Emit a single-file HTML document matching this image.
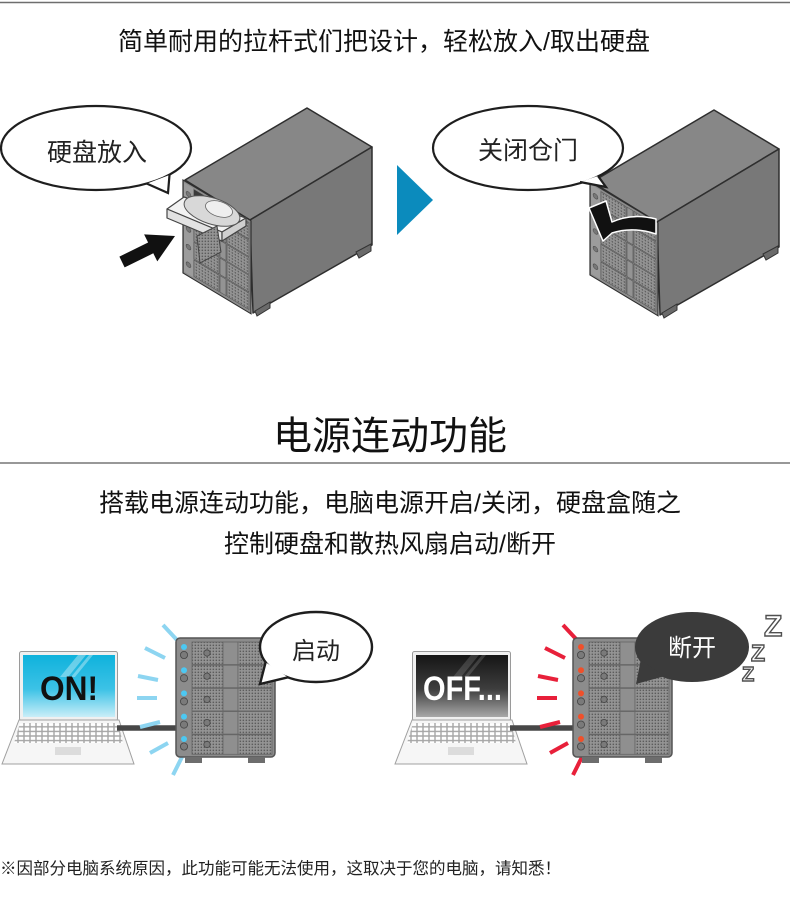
<!DOCTYPE html>
<html><head><meta charset="utf-8"><style>
html,body{margin:0;padding:0;background:#fff;width:790px;height:914px;overflow:hidden}
svg{display:block}
</style></head><body>
<svg width="790" height="914" viewBox="0 0 790 914" xmlns="http://www.w3.org/2000/svg" font-family="'Liberation Sans','Noto Sans CJK SC',sans-serif">
<defs>
<pattern id="dp" width="3" height="3" patternUnits="userSpaceOnUse"><rect width="3" height="3" fill="#959595"/><rect x="0.6" y="0.6" width="1.5" height="1.5" fill="#5c5c5c"/></pattern>
<pattern id="kp" width="6" height="4.6" patternUnits="userSpaceOnUse"><rect width="6" height="4.6" fill="#a5a5a5"/><rect x="0.7" y="0.7" width="4.6" height="3.2" fill="#fff"/></pattern>
<linearGradient id="gOn" x1="0" y1="0" x2="0" y2="1"><stop offset="0" stop-color="#0fb2dc"/><stop offset="0.55" stop-color="#3cc2e6"/><stop offset="1" stop-color="#c9eef8"/></linearGradient>
<linearGradient id="gOff" x1="0" y1="0" x2="0" y2="1"><stop offset="0" stop-color="#151515"/><stop offset="0.55" stop-color="#3e3e3e"/><stop offset="1" stop-color="#a8a8a8"/></linearGradient>
<g id="nasBody">
<polygon points="185,180 307,108 372,147 250,220" fill="#878787" stroke="#2e2e2e" stroke-width="1.5" stroke-linejoin="round"/>
<polygon points="250,220 372,147 372,245 253,313" fill="#787878" stroke="#2e2e2e" stroke-width="1.5" stroke-linejoin="round"/>
<polygon points="356,252 371,244 371,251 359,258" fill="#6a6a6a" stroke="#333" stroke-width="1"/>
<polygon points="255,311 270,302 270,308 257,316" fill="#6a6a6a" stroke="#333" stroke-width="1"/>
</g>
<g id="isoFront">
<rect x="0" y="0" width="68" height="93" fill="#8c8c8c" stroke="#2e2e2e" stroke-width="1.2"/>
<rect x="1" y="2" width="9" height="89" fill="#9c9c9c"/>
<g stroke="#505050" stroke-width="0.6">
<rect x="11" y="3" width="25" height="16.5" fill="url(#dp)"/><rect x="37" y="3" width="6" height="16.5" fill="#939393"/><rect x="44" y="3" width="22" height="16.5" fill="url(#dp)"/>
<rect x="11" y="20.6" width="25" height="16.5" fill="url(#dp)"/><rect x="37" y="20.6" width="6" height="16.5" fill="#939393"/><rect x="44" y="20.6" width="22" height="16.5" fill="url(#dp)"/>
<rect x="11" y="38.2" width="25" height="16.5" fill="url(#dp)"/><rect x="37" y="38.2" width="6" height="16.5" fill="#939393"/><rect x="44" y="38.2" width="22" height="16.5" fill="url(#dp)"/>
<rect x="11" y="55.8" width="25" height="16.5" fill="url(#dp)"/><rect x="37" y="55.8" width="6" height="16.5" fill="#939393"/><rect x="44" y="55.8" width="22" height="16.5" fill="url(#dp)"/>
<rect x="11" y="73.4" width="25" height="16.5" fill="url(#dp)"/><rect x="37" y="73.4" width="6" height="16.5" fill="#939393"/><rect x="44" y="73.4" width="22" height="16.5" fill="url(#dp)"/>
<circle cx="5.5" cy="11" r="2.4" fill="#777"/><circle cx="5.5" cy="28.6" r="2.4" fill="#777"/><circle cx="5.5" cy="46.2" r="2.4" fill="#777"/><circle cx="5.5" cy="63.8" r="2.4" fill="#777"/><circle cx="5.5" cy="81.4" r="2.4" fill="#777"/>
</g>
</g>
<g id="nasFront">
<rect x="0" y="0" width="99" height="119" rx="4" fill="#8c8c8c" stroke="#555" stroke-width="1.5"/>
<g stroke="#666" stroke-width="0.8">
<rect x="16" y="4" width="31" height="22.5" fill="url(#dp)"/><rect x="47" y="4" width="15" height="22.5" fill="#8f8f8f"/><rect x="62" y="4" width="34" height="22.5" fill="url(#dp)"/>
<rect x="16" y="27.2" width="31" height="22.5" fill="url(#dp)"/><rect x="47" y="27.2" width="15" height="22.5" fill="#8f8f8f"/><rect x="62" y="27.2" width="34" height="22.5" fill="url(#dp)"/>
<rect x="16" y="50.4" width="31" height="22.5" fill="url(#dp)"/><rect x="47" y="50.4" width="15" height="22.5" fill="#8f8f8f"/><rect x="62" y="50.4" width="34" height="22.5" fill="url(#dp)"/>
<rect x="16" y="73.6" width="31" height="22.5" fill="url(#dp)"/><rect x="47" y="73.6" width="15" height="22.5" fill="#8f8f8f"/><rect x="62" y="73.6" width="34" height="22.5" fill="url(#dp)"/>
<rect x="16" y="96.8" width="31" height="19.5" fill="url(#dp)"/><rect x="47" y="96.8" width="15" height="19.5" fill="#8f8f8f"/><rect x="62" y="96.8" width="34" height="19.5" fill="url(#dp)"/>
</g>
<g fill="#7a7a7a" stroke="#444" stroke-width="0.8">
<circle cx="31" cy="15" r="3.2"/><circle cx="31" cy="38.2" r="3.2"/><circle cx="31" cy="61.4" r="3.2"/><circle cx="31" cy="84.6" r="3.2"/><circle cx="31" cy="106.5" r="3.2"/>
<circle cx="8" cy="17" r="3.6"/><circle cx="8" cy="40.2" r="3.6"/><circle cx="8" cy="63.4" r="3.6"/><circle cx="8" cy="86.6" r="3.6"/><circle cx="8" cy="108.5" r="3.6"/>
</g>
<rect x="9" y="119" width="17" height="6" fill="#6d6d6d"/>
<rect x="72" y="119" width="17" height="6" fill="#6d6d6d"/>
</g>
<g id="laptopBase">
<rect x="19.5" y="651.5" width="98" height="69" rx="2" fill="#f0f0f0" stroke="#9a9a9a"/>
<polygon points="19,720 119,720 134,764 2,764" fill="#f6f6f6" stroke="#a0a0a0"/>
<polygon points="20,723 118,723 123,743 14,743" fill="url(#kp)"/>
<rect x="55" y="747" width="26" height="8" fill="#dcdcdc"/>
</g>
</defs>

<!-- top rule -->
<line x1="0" y1="2.5" x2="790" y2="2.5" stroke="#6e6e6e" stroke-width="1.5"/>
<text x="384" y="50" font-size="25" text-anchor="middle" fill="#111">简单耐用的拉杆式们把设计，轻松放入/取出硬盘</text>

<!-- top-left illustration -->
<use href="#nasBody"/>
<g transform="matrix(1,0.6,0,1,183,180)">
<use href="#isoFront"/>
<rect x="11" y="3" width="25" height="16.5" fill="#3a3a3a"/>
</g>
<!-- tray & disk -->
<polygon points="167,209 184,197 246,218 222,232" fill="#f2f2f2" stroke="#444" stroke-width="1.2" stroke-linejoin="round"/>
<polygon points="167,209 222,232 222,241 167,218" fill="#e2e2e2" stroke="#444" stroke-width="1.2" stroke-linejoin="round"/>
<polygon points="222,232 246,218 246,226 222,241" fill="#cfcfcf" stroke="#444" stroke-width="1.2"/>
<ellipse cx="212" cy="211" rx="29" ry="13" transform="rotate(18 212 211)" fill="#d8d8d8" stroke="#555" stroke-width="1"/>
<ellipse cx="219" cy="209" rx="14" ry="7.5" transform="rotate(18 219 209)" fill="#efefef" stroke="#666" stroke-width="0.8"/>
<polygon points="197,236 217,226 221,252 200,263" fill="url(#dp)" stroke="#444" stroke-width="1"/>
<polygon points="124.6,267.4 153.3,253.3 157.3,261.4 175,236 144.1,234.4 148.1,242.5 119.4,256.6" fill="#111"/>
<!-- bubble 1 -->
<ellipse cx="96" cy="148" rx="95" ry="42" fill="#fff" stroke="#1e1e1e" stroke-width="2.2"/>
<polygon points="146.9,183.6 168,193 169.5,175" fill="#fff"/>
<polyline points="146.9,183.6 168,193 169.5,175" fill="none" stroke="#1e1e1e" stroke-width="2.2" stroke-linejoin="miter"/>
<text x="97" y="161" font-size="25" text-anchor="middle" fill="#222">硬盘放入</text>

<!-- blue triangle -->
<polygon points="397,165 433,200 397,235" fill="#0b8bbd"/>

<!-- top-right illustration -->
<use href="#nasBody" transform="translate(407,2)"/>
<g transform="matrix(1,0.6,0,1,590,182)"><use href="#isoFront"/></g>
<path d="M656,219 C640,215 625,216 612,222 L606,201 L589,208 L603,241 L612,233 C627,228 641,229 656,234 Z" fill="#111" stroke="#fff" stroke-width="1.5" stroke-linejoin="round"/>
<ellipse cx="528" cy="148" rx="95" ry="42" fill="#fff" stroke="#1e1e1e" stroke-width="2.2"/>
<polygon points="580,182 606,187 598,176" fill="#fff"/>
<polyline points="580,182 606,187 598,176" fill="none" stroke="#1e1e1e" stroke-width="2.2"/>
<text x="528" y="159" font-size="25" text-anchor="middle" fill="#222">关闭仓门</text>

<!-- section title -->
<text x="390" y="449.5" font-size="39" text-anchor="middle" fill="#111">电源连动功能</text>
<line x1="0" y1="463" x2="790" y2="463" stroke="#8a8a8a" stroke-width="1.8"/>
<text x="390" y="511.5" font-size="25" text-anchor="middle" fill="#111">搭载电源连动功能，电脑电源开启/关闭，硬盘盒随之</text>
<text x="390" y="552.5" font-size="25" text-anchor="middle" fill="#111">控制硬盘和散热风扇启动/断开</text>

<!-- bottom-left -->
<use href="#laptopBase"/>
<rect x="23" y="655" width="92" height="62" fill="url(#gOn)"/>
<polygon points="78,655 86,655 68,677 60,677" fill="#fff" opacity="0.35"/>
<polygon points="89,655 93,655 75,677 71,677" fill="#fff" opacity="0.35"/>
<text x="40" y="700" font-size="34" font-weight="bold" fill="#111" textLength="58" lengthAdjust="spacingAndGlyphs">ON!</text>
<line x1="117" y1="728" x2="178" y2="728" stroke="#474747" stroke-width="5.5"/>
<g stroke="#8dd5f1" stroke-width="4">
<line x1="163" y1="625" x2="177" y2="640"/><line x1="145" y1="648" x2="165" y2="658"/><line x1="138" y1="676" x2="158" y2="680"/><line x1="137" y1="698" x2="157" y2="698"/><line x1="140" y1="727" x2="160" y2="722"/><line x1="150" y1="753" x2="168" y2="743"/><line x1="173" y1="775" x2="182" y2="757"/>
</g>
<use href="#nasFront" transform="translate(176,638)"/>
<g fill="#4cc8f2"><circle cx="184" cy="647" r="3"/><circle cx="184" cy="670.2" r="3"/><circle cx="184" cy="693.4" r="3"/><circle cx="184" cy="716.6" r="3"/><circle cx="184" cy="739" r="3"/></g>
<ellipse cx="316" cy="647" rx="56" ry="35" fill="#fff" stroke="#1e1e1e" stroke-width="2.4"/>
<polygon points="265.6,662.3 260,684 288,677.3" fill="#fff"/>
<polyline points="265.6,662.3 260,684 288,677.3" fill="none" stroke="#1e1e1e" stroke-width="2.4"/>
<text x="316" y="659" font-size="24" text-anchor="middle" fill="#222">启动</text>

<!-- bottom-right -->
<g transform="translate(393,0)"><use href="#laptopBase"/></g>
<rect x="416" y="655" width="92" height="62" fill="url(#gOff)"/>
<polygon points="471,655 479,655 461,677 453,677" fill="#fff" opacity="0.15"/>
<polygon points="482,655 486,655 468,677 464,677" fill="#fff" opacity="0.15"/>
<text x="423" y="700" font-size="34" font-weight="bold" fill="#fff" textLength="79" lengthAdjust="spacingAndGlyphs">OFF...</text>
<line x1="510" y1="728" x2="575" y2="728" stroke="#474747" stroke-width="5.5"/>
<g stroke="#e8203a" stroke-width="4">
<line x1="563" y1="625" x2="577" y2="640"/><line x1="545" y1="648" x2="565" y2="658"/><line x1="538" y1="676" x2="558" y2="680"/><line x1="537" y1="698" x2="557" y2="698"/><line x1="540" y1="727" x2="560" y2="722"/><line x1="550" y1="753" x2="568" y2="743"/><line x1="573" y1="775" x2="582" y2="757"/>
</g>
<use href="#nasFront" transform="translate(573,638)"/>
<g fill="#f0502a"><circle cx="581" cy="647" r="3"/><circle cx="581" cy="670.2" r="3"/><circle cx="581" cy="693.4" r="3"/><circle cx="581" cy="716.6" r="3"/><circle cx="581" cy="739" r="3"/></g>
<ellipse cx="692" cy="647" rx="57" ry="35" fill="#3b3b3b"/>
<polygon points="640.8,660 636,684 665,676" fill="#3b3b3b"/>
<text x="692" y="656" font-size="24" text-anchor="middle" fill="#fff">断开</text>
<g font-weight="bold" fill="#fff" stroke="#505050" stroke-width="1.4">
<text x="764" y="636" font-size="30">Z</text>
<text x="751" y="661" font-size="23">Z</text>
<text x="742" y="681" font-size="20">Z</text>
</g>

<!-- footnote -->
<text x="0" y="874" font-size="16.5" fill="#222">※因部分电脑系统原因，此功能可能无法使用，这取决于您的电脑，请知悉！</text>
</svg>
</body></html>
